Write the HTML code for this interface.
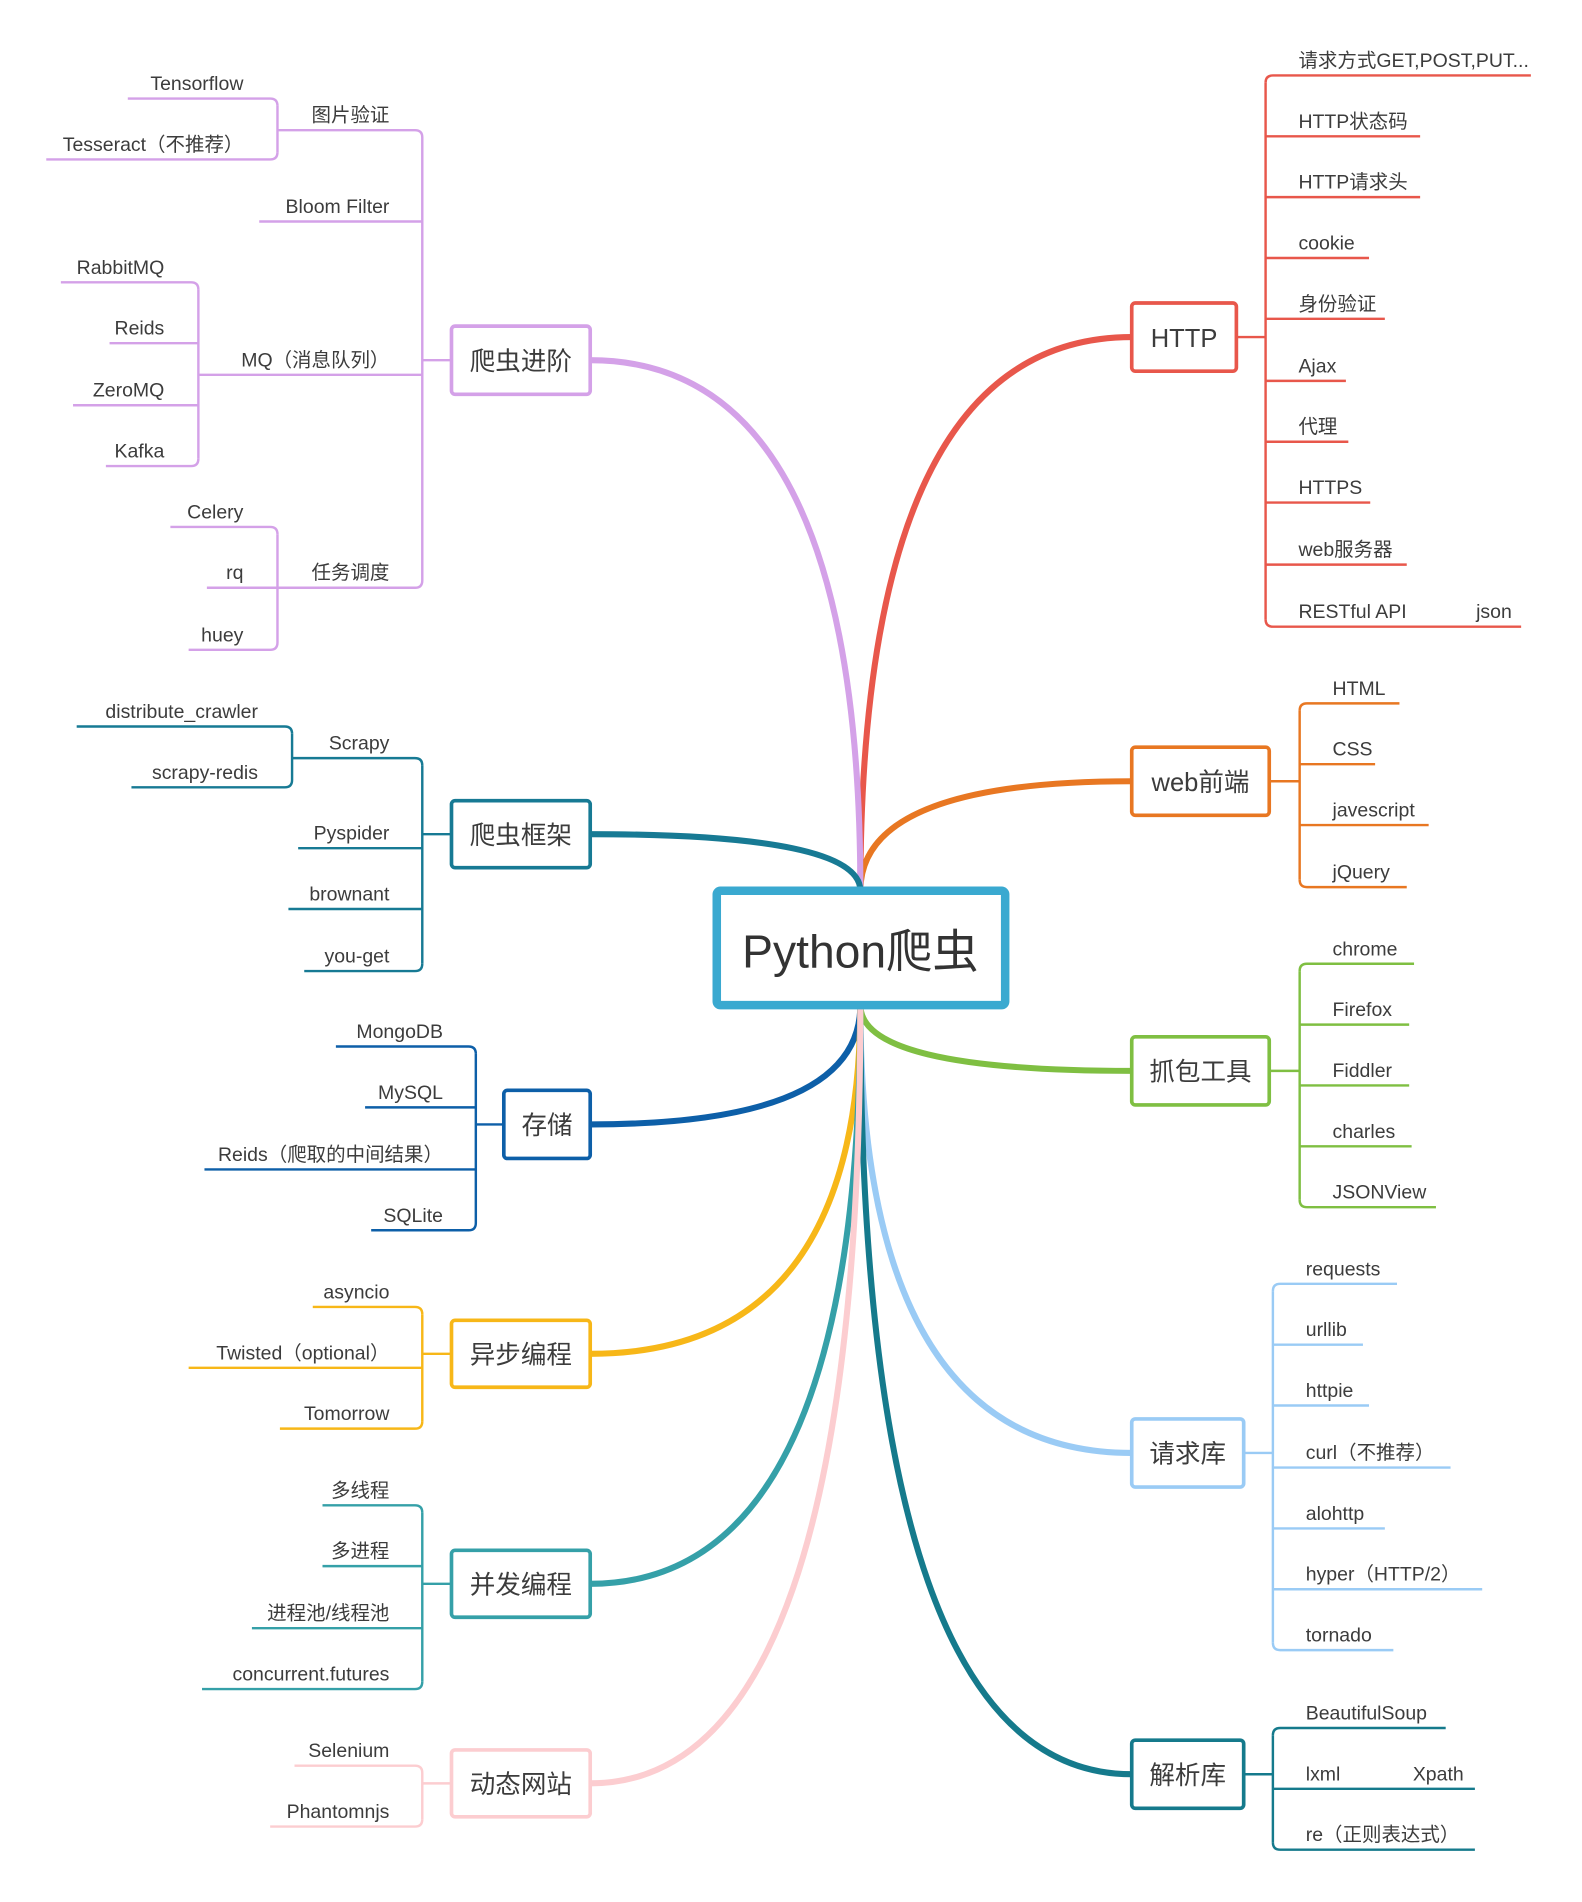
<!DOCTYPE html>
<html><head><meta charset="utf-8">
<style>
html,body{margin:0;padding:0;background:#fff;}
svg{display:block;}
text{font-family:"Liberation Sans","Noto Sans CJK SC",sans-serif;fill:#3c3c3c;}
</style></head>
<body>
<svg id="map" width="1582" height="1902" viewBox="0 0 1300 1563" xmlns="http://www.w3.org/2000/svg">
<g id="curves"></g>
<g id="branches"></g>
<g id="center">
<rect x="589" y="732" width="237" height="94" rx="3" fill="#fff" stroke="#3aa9d0" stroke-width="7"/>
<text x="707" y="795" font-size="38" text-anchor="middle" style="fill:#333">Python爬虫</text>
</g>
</svg>
<script>
// node: [label, side, boxX1, boxX2, boxY1, boxY2, color, bracketX]
const nodeLabels=["HTTP","web前端","抓包工具","请求库","解析库","爬虫进阶","爬虫框架","存储","异步编程","并发编程","动态网站"];
const nodeSides=["R","R","R","R","R","L","L","L","L","L","L"];
const nodeBoxX=[[930,1016],[930,1043],[930,1043],[930,1022],[930,1022],[371,485],[371,485],[414,485],[371,485],[371,485],[371,485]];
const nodeBoxY=[[249,305],[614,670],[852,908],[1166,1222],[1430,1486],[268,324],[658,713],[896,952],[1085,1140],[1274,1329],[1438,1493]];
const nodeColors=["#e8574b","#e87722","#7fbf42","#9acbf5","#157a8c","#d4a1e8","#177a94","#0d5fa8","#f7b718","#35a0a8","#fccdd0"];
const bracketX=[1040,1068,1068,1046,1046,347,347,391,347,347,347];
// children: [label, underlineY, lineEnd(other end)]
const children=[
 [["请求方式GET,POST,PUT...",62,1258],["HTTP状态码",112,1167],["HTTP请求头",162,1167],["cookie",212,1125],["身份验证",262,1138],["Ajax",313,1106],["代理",363,1108],["HTTPS",413,1126],["web服务器",464,1156],["RESTful API",515,1250]],
 [["HTML",578,1150],["CSS",628,1130],["javescript",678,1174],["jQuery",729,1156]],
 [["chrome",792,1162],["Firefox",842,1158],["Fiddler",892,1158],["charles",942,1160],["JSONView",992,1180]],
 [["requests",1055,1148],["urllib",1105,1120],["httpie",1155,1125],["curl（不推荐）",1206,1192],["alohttp",1256,1138],["hyper（HTTP/2）",1306,1218],["tornado",1356,1145]],
 [["BeautifulSoup",1420,1188],["lxml",1470,1212],["re（正则表达式）",1520,1212]],
 [["图片验证",107,228],["Bloom Filter",182,213],["MQ（消息队列）",308,163],["任务调度",483,228]],
 [["Scrapy",623,240],["Pyspider",697,245],["brownant",747,237],["you-get",798,250]],
 [["MongoDB",860,276],["MySQL",910,300],["Reids（爬取的中间结果）",961,168],["SQLite",1011,305]],
 [["asyncio",1074,257],["Twisted（optional）",1124,155],["Tomorrow",1174,230]],
 [["多线程",1237,265],["多进程",1287,265],["进程池/线程池",1338,207],["concurrent.futures",1388,166]],
 [["Selenium",1451,242],["Phantomnjs",1501,222]]
];
// grandchildren: [nodeIndex, childIndex, subBracketX, [[label, y, lineStart]]]
const grandchildren=[
 [5,0,228,[["Tensorflow",81,105],["Tesseract（不推荐）",131,38]]],
 [5,2,163,[["RabbitMQ",232,50],["Reids",282,90],["ZeroMQ",333,60],["Kafka",383,87]]],
 [5,3,228,[["Celery",433,140],["rq",483,170],["huey",534,155]]],
 [6,0,240,[["distribute_crawler",597,63],["scrapy-redis",647,108]]]
];
const inlineExtras=[[0,9,"json",1213],[4,1,"Xpath",1161]];

const NS="http://www.w3.org/2000/svg";
const curvesG=document.getElementById('curves');
const brG=document.getElementById('branches');
function mk(tag,attrs,parent){const e=document.createElementNS(NS,tag);for(const k in attrs)e.setAttribute(k,attrs[k]);parent.appendChild(e);return e;}
const CX=707, CTOP=732, CBOT=826, CMID=779;

function bracket(g,x,ys,color,side){
  const y1=Math.min(...ys), y2=Math.max(...ys), r=6;
  if(ys.length>1){
    mk('line',{x1:x,y1:y1+r,x2:x,y2:y2-r,stroke:color,'stroke-width':2},g);
  }
}
function childLine(g,x,y,end,color,side,yMin,yMax){
  const r=6;let d;
  if(side==="R"){
    if(y===yMin&&yMin!==yMax) d=`M${x},${y+r} Q${x},${y} ${x+r},${y} L${end},${y}`;
    else if(y===yMax&&yMin!==yMax) d=`M${x},${y-r} Q${x},${y} ${x+r},${y} L${end},${y}`;
    else d=`M${x},${y} L${end},${y}`;
  } else {
    if(y===yMin&&yMin!==yMax) d=`M${x},${y+r} Q${x},${y} ${x-r},${y} L${end},${y}`;
    else if(y===yMax&&yMin!==yMax) d=`M${x},${y-r} Q${x},${y} ${x-r},${y} L${end},${y}`;
    else d=`M${x},${y} L${end},${y}`;
  }
  mk('path',{d:d,fill:'none',stroke:color,'stroke-width':2},g);
}

nodeLabels.forEach((lab,i)=>{
  const side=nodeSides[i], col=nodeColors[i];
  const [bx1,bx2]=nodeBoxX[i],[by1,by2]=nodeBoxY[i], my=(by1+by2)/2;
  // curve from center to node
  const sx=side==="R"?bx1:bx2;
  const ey=my<CMID?CTOP:CBOT;
  const c=mk('path',{d:`M${sx},${my} Q${CX},${my} ${CX},${ey}`,fill:'none',stroke:col,'stroke-width':5,'stroke-linecap':'round'},curvesG);
  
  
  const g=mk('g',{},brG);
  
  
  const bx=bracketX[i];
  const kids=children[i];
  const ys=kids.map(k=>k[1]);
  const yMin=Math.min(...ys,my), yMax=Math.max(...ys,my);
  // connector from box to bracket
  mk('line',{x1:side==="R"?bx2:bx1,y1:my,x2:bx,y2:my,stroke:col,'stroke-width':2},g);
  if(kids.length>1) mk('line',{x1:bx,y1:Math.min(...ys)+6,x2:bx,y2:Math.max(...ys)-6,stroke:col,'stroke-width':2},g);
  kids.forEach((k,j)=>{
    childLine(g,bx,k[1],k[2],col,side,Math.min(...ys),Math.max(...ys));
    const t=mk('text',{'font-size':16},g);
    if(side==="R"){t.setAttribute('x',bx+27);}else{t.setAttribute('x',bx-27);t.setAttribute('text-anchor','end');}
    t.setAttribute('y',k[1]-7);
    t.textContent=k[0];
    
    
  });
  // box
  const box=mk('g',{},g);
  
  
  mk('rect',{x:bx1,y:by1,width:bx2-bx1,height:by2-by1,rx:3,fill:'#fff',stroke:col,'stroke-width':3},box);
  const bt=mk('text',{x:(bx1+bx2)/2,y:my+8,'font-size':21,'text-anchor':'middle'},box);
  bt.textContent=lab;
});

grandchildren.forEach(gc=>{
  const [ni,ci,sbx,list]=gc;
  const col=nodeColors[ni];
  const g=mk('g',{},brG);
  
  
  const ys=list.map(l=>l[1]);
  mk('line',{x1:sbx,y1:Math.min(...ys)+6,x2:sbx,y2:Math.max(...ys)-6,stroke:col,'stroke-width':2},g);
  list.forEach((l,j)=>{
    childLine(g,sbx,l[1],l[2],col,"L",Math.min(...ys),Math.max(...ys));
    const t=mk('text',{x:sbx-28,y:l[1]-7,'font-size':16,'text-anchor':'end'},g);
    t.textContent=l[0];
    
    
  });
});

inlineExtras.forEach(e=>{
  const [ni,ci,lab,x]=e;
  const t=mk('text',{x:x,y:children[ni][ci][1]-7,'font-size':16},brG);
  t.textContent=lab;
  
  
});
</script>
</body></html>
